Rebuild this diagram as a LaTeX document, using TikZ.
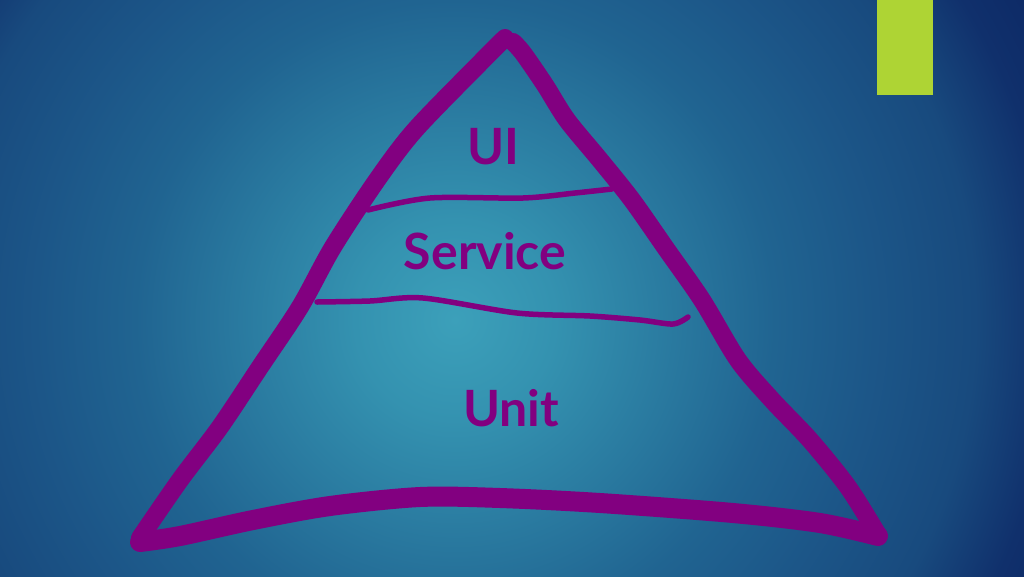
\documentclass[tikz,border=0pt]{standalone}
\usepackage{fontspec}
\setmainfont{Lato}
\usetikzlibrary{positioning}
\definecolor{tpPurple}{RGB}{130,0,128}
\definecolor{tpGreen}{RGB}{174,212,52}
\definecolor{tpGlow}{RGB}{60,160,186}
\definecolor{tpSoft}{RGB}{52,146,176}
\definecolor{tpMid}{RGB}{32,100,145}
\definecolor{tpDim}{RGB}{28,86,136}
\definecolor{tpDark}{RGB}{24,74,126}
\definecolor{tpNavy}{RGB}{16,48,108}
\definecolor{tpDeep}{RGB}{12,40,100}
\pgfdeclareradialshading{tpback}{\pgfpoint{0bp}{0bp}}{color(0bp)=(tpGlow); color(2.5bp)=(tpSoft); color(8bp)=(tpMid); color(10.5bp)=(tpDim); color(13bp)=(tpDark); color(15bp)=(tpNavy); color(17bp)=(tpDeep); color(50bp)=(tpDeep)}

\begin{document}
\begin{tikzpicture}[
    x=1pt, y=-1pt,
    tri edge/.style={draw=tpPurple, line width=18pt, line cap=round, line join=round},
    split line/.style={draw=tpPurple, line width=5.5pt, line cap=round, line join=round},
    layer label/.style={text=tpPurple, inner sep=0pt, font=\bfseries\fontsize{50}{60}\selectfont}
]
  % background
  \useasboundingbox (0,0) rectangle (1024,576);
  \fill[tpDeep] (0,0) rectangle (1024,576);
  \begin{scope}
    \clip (0,0) rectangle (1024,576);
    \shade[shading=tpback] (455,320) circle (1000);
  \end{scope}
  \fill[tpGreen] (877,0) rectangle (933,95);

  % pyramid
  \draw[tri edge] plot[smooth, tension=0.5] coordinates {(505,38) (480,63) (415,130) (377,180) (333,247) (300,307) (260,367) (220,427) (180,480) (140,538)};
  \draw[tri edge] plot[smooth, tension=0.5] coordinates {(513,42) (523,53) (545,85) (567,120) (600,160) (632,200) (667,250) (702,300) (738,360) (772,400) (810,440) (848,487) (878,535)};
  \draw[tri edge, line width=20pt] plot[smooth, tension=0.5] coordinates {(140,542) (180,536) (253,520) (330,506) (420,497) (500,498) (600,503) (733,513) (820,523) (878,536)};

  % layers
  \draw[split line] plot[smooth, tension=0.5] coordinates {(368,210) (430,198) (523,198) (575,193) (612,189)};
  \draw[split line] plot[smooth, tension=0.5] coordinates {(317,302) (370,301) (423,298) (517,313) (590,316) (640,320) (673,324) (688,317)};

  \node[layer label] (ui) at (493,147) {UI};
  \node[layer label] (service) at (485,251) {Service};
  \node[layer label] (unit) at (511,408) {Unit};
\end{tikzpicture}
\end{document}
